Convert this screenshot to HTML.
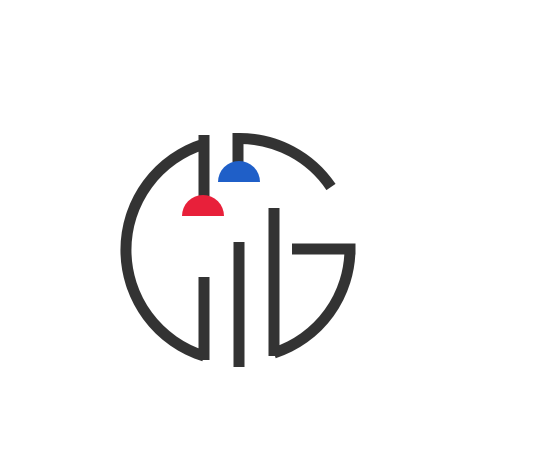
<!DOCTYPE html>
<html>
<head>
<meta charset="utf-8">
<style>
  html,body{margin:0;padding:0;background:#fff;}
  body{width:540px;height:462px;overflow:hidden;}
  svg{display:block;}
</style>
</head>
<body>
<svg width="540" height="462" viewBox="0 0 540 462">
  <g fill="none" stroke="#333333" stroke-width="11" stroke-linecap="butt" stroke-linejoin="miter">
    <path d="M 204 144 A 111 111 0 0 0 204 356"/>
    <path d="M 204 135 L 204 198"/>
    <path d="M 204 277 L 204 360"/>
    <path d="M 239 242 L 239 367"/>
    <path d="M 238 163 L 238 138.5 L 240 138.5 A 110 110 0 0 1 331 187"/>
    <path d="M 274 353 A 110 110 0 0 0 350 248"/>
    <path d="M 274 208 L 274 356"/>
    <path d="M 292 249 L 355.5 249"/>
  </g>
  <path d="M 182 216 A 21 21 0 0 1 224 216 Z" fill="#e8203a"/>
  <path d="M 218 182 A 21 21 0 0 1 260 182 Z" fill="#1f5fc8"/>
</svg>
</body>
</html>
